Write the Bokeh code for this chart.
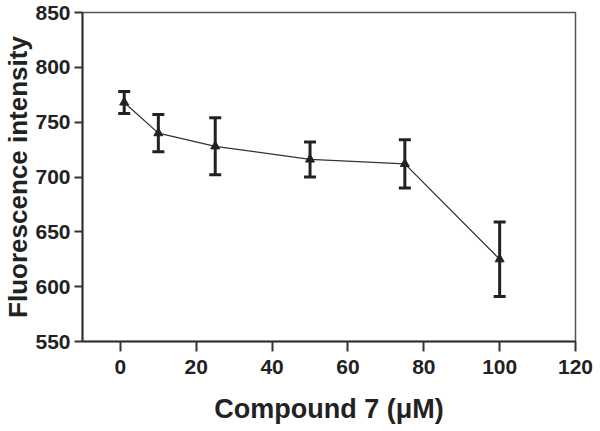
from bokeh.plotting import figure
from bokeh.models import Range1d, FixedTicker, ColumnDataSource, Whisker, TeeHead, Title
from bokeh.embed import file_html
from bokeh.resources import INLINE

concentration = [1, 10, 25, 50, 75, 100]
intensity = [768, 740, 728, 716, 712, 625]
error = [10, 17, 26, 16, 22, 34]
x_ticks = [0, 20, 40, 60, 80, 100, 120]
y_ticks = [550, 600, 650, 700, 750, 800, 850]

lower = [v - e for v, e in zip(intensity, error)]
upper = [v + e for v, e in zip(intensity, error)]
src = ColumnDataSource(data=dict(x=concentration, y=intensity, lower=lower, upper=upper))

p = figure(width=600, height=431, output_backend="svg", toolbar_location=None,
           x_range=Range1d(-10, 120), y_range=Range1d(550, 850),
           min_border_left=81, min_border_right=25, min_border_top=12, min_border_bottom=90)

p.xgrid.visible = False
p.ygrid.visible = False
p.outline_line_color = "#555555"
p.outline_line_width = 1.5

FONT = "Liberation Sans"
for ax in (p.xaxis[0], p.yaxis[0]):
    ax.axis_line_color = "#333333"
    ax.axis_line_width = 2
    ax.major_tick_line_color = "#333333"
    ax.major_tick_line_width = 2
    ax.minor_tick_line_color = None
    ax.major_tick_in = 0
    ax.major_label_text_font = FONT
    ax.major_label_text_font_style = "bold"
    ax.major_label_text_font_size = "21px"
    ax.major_label_text_color = "#222222"
    ax.axis_label_text_font = FONT
    ax.axis_label_text_font_style = "bold"
    ax.axis_label_text_color = "#222222"

p.xaxis.ticker = FixedTicker(ticks=x_ticks)
p.yaxis.ticker = FixedTicker(ticks=y_ticks)
p.xaxis.major_tick_out = 10
p.yaxis.major_tick_out = 8
p.xaxis.major_label_standoff = 8
p.yaxis.major_label_standoff = 4
p.xaxis.axis_label = "Compound 7 (\u03bcM)"
p.xaxis.axis_label_text_font_size = "27px"
p.xaxis.axis_label_standoff = 17

ytitle = Title(text="Fluorescence intensity", align="center",
               text_font=FONT, text_font_style="bold", text_font_size="26px",
               text_color="#222222", standoff=0, offset=0)
p.add_layout(ytitle, "left")

p.line("x", "y", source=src, line_color="#333333", line_width=1.3)
w = Whisker(source=src, base="x", lower="lower", upper="upper",
            line_color="#222222", line_width=3,
            lower_head=TeeHead(size=12, line_width=3, line_color="#222222"),
            upper_head=TeeHead(size=12, line_width=3, line_color="#222222"))
p.add_layout(w)
p.scatter("x", "y", source=src, marker="triangle", size=9, fill_color="#222222", line_color="#222222")

open("out.html", "w").write(file_html(p, INLINE))
